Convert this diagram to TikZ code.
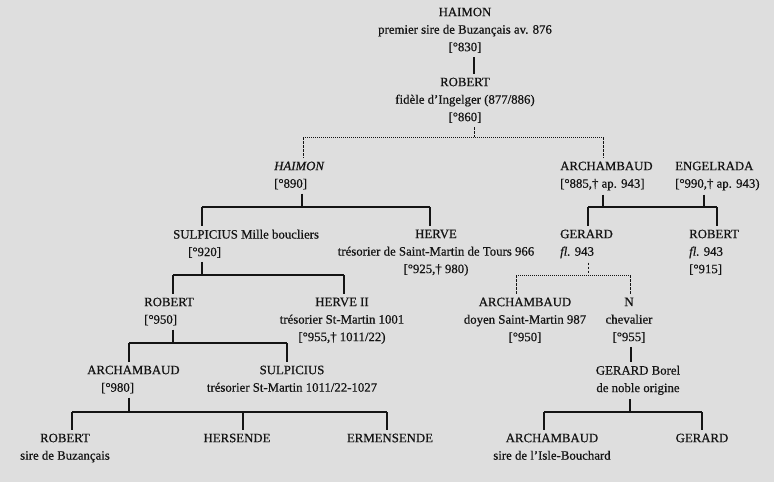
\documentclass[tikz,border=0pt]{standalone}
\usepackage{fontspec}
\setmainfont{Liberation Serif}[FakeBold=0.6]
\usepackage{tikz}
\usetikzlibrary{positioning,calc}
\definecolor{paper}{RGB}{222,222,222}
\definecolor{ink}{RGB}{20,20,20}
\tikzset{
  pers/.style={anchor=north,align=center,inner xsep=0pt,inner ysep=4pt,text=ink,
    font=\fontsize{12.8}{17.5}\selectfont},
  persl/.style={pers,anchor=north west,align=left},
  kin/.style={line width=1.2pt,draw=ink},                                 % filiation
  kindash/.style={line width=1pt,draw=ink,dash pattern=on 2.5pt off 1.5pt}, % presumed filiation
  kindot/.style={line width=0.8pt,draw=ink,dash pattern=on 0.8pt off 1.2pt},
}

\begin{document}
\begin{tikzpicture}[x=1pt,y=-1pt]
  \fill[paper] (0,0) rectangle (774,482);
  % ---- persons ----
  \node[pers] (h1) at (465,3.5) {HAIMON\\premier sire de Buzançais av. 876\\{[}°830{]}};
  \node[pers] (r1) at (465,73.5) {ROBERT\\fidèle d’Ingelger (877/886)\\{[}°860{]}};
  \node[persl] (h2) at (274,157.5) {\textit{HAIMON}\\{[}°890{]}};
  \node[persl] (a2) at (560,157.5) {ARCHAMBAUD\\{[}°885,† ap. 943{]}};
  \node[persl] (e2) at (675,157.5) {ENGELRADA\\{[}°990,† ap. 943)};
  \node[persl] (s3) at (173,225.5) {SULPICIUS Mille boucliers\\\hspace*{15pt}{[}°920{]}};
  \node[pers] (hv3) at (436,225.5) {HERVE\\trésorier de Saint-Martin de Tours 966\\{[}°925,† 980)};
  \node[persl] (g3) at (560,225.5) {GERARD\\\textit{fl.} 943};
  \node[persl] (rb3) at (689,225.5) {ROBERT\\\textit{fl.} 943\\{[}°915{]}};
  \node[persl] (rb4) at (144,293.5) {ROBERT\\{[}°950{]}};
  \node[pers] (hv4) at (342,293.5) {HERVE II\\trésorier St-Martin 1001\\{[}°955,† 1011/22)};
  \node[pers] (a4) at (525,293.5) {ARCHAMBAUD\\doyen Saint-Martin 987\\{[}°950{]}};
  \node[pers] (n4) at (629,293.5) {N\\chevalier\\{[}°955{]}};
  \node[persl] (a5) at (87,361.5) {ARCHAMBAUD\\\hspace*{14pt}{[}°980{]}};
  \node[pers] (s5) at (292,361.5) {SULPICIUS\\trésorier St-Martin 1011/22-1027};
  \node[pers] (gb5) at (638,361.5) {GERARD Borel\\de noble origine};
  \node[pers] (rb6) at (65,429.5) {ROBERT\\sire de Buzançais};
  \node[pers] (hs6) at (237,429.5) {HERSENDE};
  \node[pers] (em6) at (390,429.5) {ERMENSENDE};
  \node[pers] (a6) at (552,429.5) {ARCHAMBAUD\\sire de l’Isle-Bouchard};
  \node[pers] (g6) at (702,429.5) {GERARD};
  % ---- HAIMON -> ROBERT ----
  \coordinate (ft) at (474,0);
  \draw[kin] (h1.south -| ft) -- (r1.north -| ft);
  % ---- sons of ROBERT (presumed) ----
  \coordinate (fr) at (474,137);
  \coordinate (fr1) at (303,137);
  \coordinate (fr2) at (603,137);
  \draw[kindash] (r1.south -| fr) -- (fr);
  \draw[kindot] (fr1) -- (fr2);
  \draw[kindash] (fr1) -- (fr1 |- h2.north);
  \draw[kindash] (fr2) -- (fr2 |- a2.north);
  % ---- sons of HAIMON ----
  \coordinate (fh) at (302,207);
  \coordinate (fh1) at (202,207);
  \coordinate (fh2) at (430,207);
  \draw[kin] (h2.south -| fh) -- (fh);
  \draw[kin] (fh1) -- (fh2);
  \foreach \c/\n in {fh1/s3, fh2/hv3}
    \draw[kin] (\c) -- (\c |- \n.north);
  % ---- ARCHAMBAUD x ENGELRADA ----
  \coordinate (fa) at (603,207);
  \coordinate (fe) at (704,207);
  \coordinate (fa1) at (588,207);
  \coordinate (fa2) at (717,207);
  \draw[kin] (a2.south -| fa) -- (fa);
  \draw[kin] (e2.south -| fe) -- (fe);
  \draw[kin] (fa1) -- (fa2);
  \foreach \c/\n in {fa1/g3, fa2/rb3}
    \draw[kin] (\c) -- (\c |- \n.north);
  % ---- sons of SULPICIUS ----
  \coordinate (fs) at (202,275);
  \coordinate (fs1) at (173,275);
  \coordinate (fs2) at (344,275);
  \draw[kin] (s3.south -| fs) -- (fs);
  \draw[kin] (fs1) -- (fs2);
  \foreach \c/\n in {fs1/rb4, fs2/hv4}
    \draw[kin] (\c) -- (\c |- \n.north);
  % ---- sons of GERARD (presumed) ----
  \coordinate (fg) at (588,275);
  \coordinate (fg1) at (516,275);
  \coordinate (fg2) at (630,275);
  \draw[kindash] (g3.south -| fg) -- (fg);
  \draw[kindot] (fg1) -- (fg2);
  \foreach \c/\n in {fg1/a4, fg2/n4}
    \draw[kindash] (\c) -- (\c |- \n.north);
  % ---- sons of ROBERT [950] ----
  \coordinate (fb) at (173,343);
  \coordinate (fb1) at (129,343);
  \coordinate (fb2) at (287,343);
  \draw[kin] (rb4.south -| fb) -- (fb);
  \draw[kin] (fb1) -- (fb2);
  \foreach \c/\n in {fb1/a5, fb2/s5}
    \draw[kin] (\c) -- (\c |- \n.north);
  % ---- N -> GERARD Borel ----
  \coordinate (fn) at (631,0);
  \draw[kin] (n4.south -| fn) -- (gb5.north -| fn);
  % ---- children of ARCHAMBAUD [980] ----
  \coordinate (fc) at (129,412);
  \coordinate (fc1) at (72,412);
  \coordinate (fc2) at (243,412);
  \coordinate (fc3) at (387,412);
  \draw[kin] (a5.south -| fc) -- (fc);
  \draw[kin] (fc1) -- (fc3);
  \foreach \c/\n in {fc1/rb6, fc2/hs6, fc3/em6}
    \draw[kin] (\c) -- (\c |- \n.north);
  % ---- sons of GERARD Borel ----
  \coordinate (fd) at (630,412);
  \coordinate (fd1) at (544,412);
  \coordinate (fd2) at (702,412);
  \draw[kin] (gb5.south -| fd) -- (fd);
  \draw[kin] (fd1) -- (fd2);
  \foreach \c/\n in {fd1/a6, fd2/g6}
    \draw[kin] (\c) -- (\c |- \n.north);
\end{tikzpicture}
\end{document}
